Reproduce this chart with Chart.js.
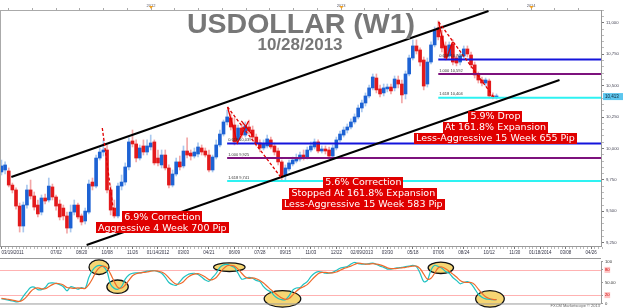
<!DOCTYPE html>
<html>
<head>
<meta charset="utf-8">
<script src="https://cdn.jsdelivr.net/npm/chart.js@4.4.0/dist/chart.umd.min.js"></script>
<style>
  html, body { margin: 0; padding: 0; background: #fff; }
  #wrap { position: relative; width: 624px; height: 308px; overflow: hidden; }
  #mainBox { position: absolute; left: 0; top: 0; width: 624px; height: 257px; }
  #oscBox { position: absolute; left: 0; top: 257px; width: 624px; height: 51px; }
</style>
</head>
<body>
<div id="wrap">
  <div id="mainBox"><canvas id="mainChart"></canvas></div>
  <div id="oscBox"><canvas id="oscChart"></canvas></div>
</div>
<script>
// weekly candles, week 0 = 03/19/2011
const opens = [9813,9829,9821,9709,9670,9542,9383,9550,9670,9622,9550,9494,9606,9590,9694,9614,9558,9526,9463,9367,9494,9550,9463,9423,9494,9733,9701,9924,9972,9988,9670,9526,9463,9701,9733,9853,10060,10036,9924,10020,9972,10012,10052,9924,9869,9948,9845,9709,9797,9893,9861,9980,9964,9940,9956,10004,9980,9948,9829,9932,10028,10115,10211,10243,10187,10068,10163,10107,10171,10147,10091,10044,10004,10020,10068,10020,9980,9893,9789,9837,9877,9900,9916,9948,9932,9988,10012,10052,9980,9996,9988,9940,10004,10068,10107,10147,10171,10211,10251,10322,10362,10418,10482,10561,10474,10442,10474,10489,10482,10545,10513,10434,10593,10720,10816,10784,10704,10513,10688,10824,10959,10895,10816,10736,10832,10720,10688,10736,10792,10744,10665,10585,10545,10521,10537,10418,10410];
const highs = [9908,9893,9845,9725,9686,9566,9574,9709,9749,9654,9590,9630,9638,9765,9717,9630,9590,9550,9494,9550,9590,9566,9479,9526,9749,9765,9948,10004,10068,10028,9701,9590,9725,9789,9885,10084,10147,10068,10028,10068,10068,10107,10068,9988,9988,9988,9869,9829,9924,9940,10020,10084,9988,10004,10044,10028,10004,9988,9948,10068,10147,10227,10306,10275,10243,10187,10195,10211,10227,10179,10115,10068,10068,10107,10091,10044,10004,9908,9869,9908,9932,9956,9972,9988,10012,10052,10076,10068,10020,10020,10012,10028,10091,10139,10171,10195,10235,10275,10346,10386,10442,10505,10593,10593,10505,10513,10513,10513,10577,10577,10545,10617,10744,10864,10864,10800,10728,10720,10848,10967,11015,10943,10848,10848,10864,10744,10760,10816,10816,10768,10688,10609,10569,10561,10553,10442,10434];
const lows = [9789,9797,9694,9646,9518,9335,9335,9526,9598,9510,9455,9471,9558,9574,9590,9510,9431,9431,9327,9335,9471,9439,9391,9399,9479,9670,9686,9908,9940,9646,9471,9447,9447,9670,9709,9829,10012,9893,9908,9948,9948,9988,9869,9861,9845,9829,9686,9694,9781,9829,9845,9924,9908,9924,9932,9948,9932,9813,9813,9916,10012,10099,10187,10147,10028,10044,10084,10091,10115,10068,10020,9972,9988,10004,9996,9948,9869,9749,9741,9821,9861,9885,9900,9908,9916,9972,9996,9964,9964,9956,9924,9924,9988,10052,10091,10123,10155,10195,10235,10290,10338,10402,10466,10442,10410,10418,10450,10434,10458,10482,10362,10394,10577,10704,10752,10657,10466,10489,10673,10808,10864,10768,10704,10720,10665,10657,10665,10720,10728,10641,10561,10521,10497,10497,10402,10394,10394];
const closes = [9861,9869,9709,9670,9542,9383,9550,9670,9622,9534,9479,9606,9582,9701,9614,9542,9455,9463,9367,9494,9550,9455,9415,9502,9717,9701,9924,9972,9988,9670,9510,9463,9701,9733,9853,10052,10036,9924,10004,9972,10020,10044,9885,9885,9948,9845,9709,9797,9893,9853,9980,9948,9940,9972,10012,9972,9948,9829,9932,10028,10115,10211,10251,10171,10052,10163,10107,10179,10139,10091,10044,10004,10036,10076,10012,9972,9893,9773,9845,9885,9908,9924,9948,9924,9988,10020,10052,9980,9996,9980,9940,10004,10068,10115,10147,10171,10211,10251,10322,10362,10418,10482,10569,10466,10434,10482,10489,10458,10553,10513,10426,10593,10720,10816,10776,10688,10497,10688,10824,10943,10888,10800,10720,10824,10688,10680,10736,10792,10752,10665,10585,10545,10521,10545,10418,10410,10413];

// slow stochastic (%K teal, %D orange)
const stochK = [11,10,8,6,4,5,17,28,38,39,33,33,38,48,49,48,45,40,30,40,38,34,38,36,62,79,88,91,88,76,45,36,34,40,58,68,72,73,73,75,77,78,78,76,72,62,50,45,43,52,62,68,71,72,69,63,56,53,62,72,86,92,93,90,86,72,58,60,62,60,55,52,40,32,28,18,12,9,9,18,32,37,38,46,52,64,72,76,75,72,72,74,79,84,86,88,94,98,95,94,94,95,96,93,89,86,82,82,84,85,86,88,89,91,88,72,52,55,80,91,88,84,76,72,62,55,47,50,52,47,35,22,15,11,10,9,9];
const stochD = [12,11,10,8,6,5,9,17,28,35,37,35,35,40,45,48,47,44,38,37,36,37,36,36,45,59,76,86,89,85,70,52,38,37,44,55,66,71,73,74,75,77,78,77,75,70,61,52,46,47,52,61,67,70,71,68,63,57,57,62,73,83,90,91,89,82,72,63,60,61,59,55,49,41,33,26,19,13,10,12,20,29,36,40,45,54,63,71,74,74,73,73,75,79,83,86,89,93,96,95,94,94,95,94,92,89,85,83,83,84,85,86,88,89,89,83,70,58,60,72,85,87,83,77,70,63,55,51,50,50,45,34,24,16,12,10,9];

// bottom date axis
const tickWeeks = [0,15,22,29,36,43,50,57,64,71,78,85,92,99,106,113,120,127,134,141,148,155,162];
const tickTexts = ["03/19/2011","07/02","08/20","10/08","11/26","01/14/2012","03/03","04/21","06/09","07/28","09/15","11/03","12/22","02/09/2013","03/30","05/18","07/06","08/24","10/12","11/30","01/18/2014","03/08","04/26"];
const yearWeeks = [41.1, 93.4, 145.6];
const yearTexts = ["2012", "2013", "2014"];

// fibonacci expansion levels
const fibRatios = ["0.618", "1.000", "1.618"];
const fibLeftLevels = [10039, 9925, 9741];
const fibLeftStart = 62;
const fibRightLevels = [10708, 10592, 10404];
const fibRightStart = 120;

// channel lines (week, price)
const upperChannel = [{ x: 2.7, y: 9773 }, { x: 133.8, y: 11094 }];
const lowerChannel = [{ x: 23.4, y: 9232 }, { x: 153.3, y: 10545 }];

// red swing marks (week, price)
const swing1Dash = [{ x: 27.7, y: 10163 }, { x: 31.0, y: 9455 }];
const swing2Solid = [{ x: 62.1, y: 10330 }, { x: 64.8, y: 10044 }, { x: 67.9, y: 10219 }];
const swing2Cross = [{ x: 65.9, y: 10219 }, { x: 69.0, y: 10107 }];
const swing2Dash = [{ x: 62.1, y: 10330 }, { x: 76.9, y: 9765 }];
const swing3Solid = [{ x: 120.1, y: 11007 }, { x: 122.3, y: 10720 }, { x: 123.9, y: 10848 }];
const swing3Dash = [{ x: 120.1, y: 11007 }, { x: 135.2, y: 10410 }];

// callouts (anchor week, price of first line)
const noteWeeks = [44.2, 99.4, 135.7];
const noteValues = [9455, 9733, 10255];
const noteLines = [
  ["6.9% Correction", "Aggressive 4 Week 700 Pip"],
  ["5.6% Correction", "Stopped At 161.8% Expansion", "Less-Aggressive 15 Week 583 Pip"],
  ["5.9% Drop", "At 161.8% Expansion", "Less-Aggressive 15 Week 655 Pip"]
];

// stochastic turning points (week, value)
const circleWeeks = [26.8, 31.9, 62.6, 77.2, 120.7, 134.2];
const circleValues = [86.5, 40, 86.5, 11, 85, 11];
const circleRx = [10, 10.7, 15.7, 18.3, 12.7, 14.3];
const circleRy = [7.3, 6.7, 4.3, 8.3, 5.7, 8.3];

const chartTitle = "USDOLLAR (W1)";
const chartDate = "10/28/2013";

const SANS = '"Liberation Sans", Arial, sans-serif';
const VERD = '"DejaVu Sans", Verdana, sans-serif';
const X_MIN = -0.4, X_MAX = 164.7;
const Y_MIN = 9224, Y_MAX = 11102;

function fmt(v) {
  return Math.round(v).toLocaleString("en-US");
}

function lineSet(points, color, width, dash, order) {
  return {
    type: "line",
    data: points,
    borderColor: color,
    borderWidth: width,
    borderDash: dash || [],
    pointRadius: 0,
    fill: false,
    xAxisID: "x",
    yAxisID: "y",
    order: order,
  };
}

const isUp = closes.map((c, i) => c >= opens[i]);
const bodyData = closes.map((c, i) => ({ x: i, y: [opens[i], c] }));
const wickData = closes.map((c, i) => ({ x: i, y: [lows[i], highs[i]] }));

const allWeeks = [];
for (let w = 0; w <= 165; w++) allWeeks.push(w);
const topTicks = [];
for (let k = -7; k <= 20; k++) {
  const v = yearWeeks[0] + k * 6.525;
  if (v >= X_MIN && v <= X_MAX) topTicks.push(v);
}
const priceTicks = [];
for (let p = 9250; p <= 11100; p += 50) priceTicks.push(p);

const mainOverlay = {
  id: "mainOverlay",
  afterDatasetsDraw(chart) {
    const { ctx, scales: { x, y } } = chart;
    ctx.save();

    // fib level captions
    ctx.font = "4px " + SANS;
    ctx.fillStyle = "#333";
    ctx.textAlign = "left";
    ctx.textBaseline = "bottom";
    fibLeftLevels.forEach((lv, i) => {
      ctx.fillText(fibRatios[i] + " " + fmt(lv), x.getPixelForValue(fibLeftStart) + 1, y.getPixelForValue(lv) - 1.5);
    });
    fibRightLevels.forEach((lv, i) => {
      ctx.fillText(fibRatios[i] + " " + fmt(lv), x.getPixelForValue(fibRightStart) + 1, y.getPixelForValue(lv) - 1.5);
    });

    // title
    ctx.fillStyle = "#777";
    ctx.textAlign = "center";
    ctx.textBaseline = "alphabetic";
    ctx.font = "bold 28.5px " + SANS;
    ctx.fillText(chartTitle, 301, 32.5);
    ctx.font = "bold 17px " + SANS;
    ctx.fillText(chartDate, 300, 50);

    // red callouts
    ctx.font = "9.5px " + VERD;
    ctx.textBaseline = "middle";
    noteLines.forEach((lines, k) => {
      const cx = x.getPixelForValue(noteWeeks[k]);
      const cy0 = y.getPixelForValue(noteValues[k]);
      lines.forEach((t, j) => {
        const w = ctx.measureText(t).width + 4;
        const cy = cy0 + j * 11;
        ctx.fillStyle = "#e00000";
        ctx.fillRect(Math.round(cx - w / 2), Math.round(cy - 5.5), Math.round(w), 11);
        ctx.fillStyle = "#fff";
        ctx.fillText(t, cx, cy + 0.5);
      });
    });
    ctx.restore();
  },
  afterDraw(chart) {
    const { ctx, chartArea: a, scales: { xTop, y } } = chart;
    ctx.save();
    // left frame edge
    ctx.strokeStyle = "#aaa";
    ctx.lineWidth = 1;
    ctx.beginPath();
    ctx.moveTo(a.left + 0.5, a.top);
    ctx.lineTo(a.left + 0.5, a.bottom);
    ctx.stroke();

    // year markers
    ctx.fillStyle = "#f0a020";
    yearWeeks.forEach((w) => {
      const px = xTop.getPixelForValue(w);
      ctx.beginPath();
      ctx.moveTo(px - 2, a.top - 4);
      ctx.lineTo(px + 2, a.top - 4);
      ctx.lineTo(px, a.top - 1);
      ctx.closePath();
      ctx.fill();
    });

    // last price tag
    const last = closes[closes.length - 1];
    const py = y.getPixelForValue(last);
    ctx.fillStyle = "#5cc6ee";
    ctx.fillRect(a.right + 2, py - 3.5, 20, 7);
    ctx.fillStyle = "#123";
    ctx.font = "4.5px " + SANS;
    ctx.textAlign = "left";
    ctx.textBaseline = "middle";
    ctx.fillText(fmt(last), a.right + 4, py + 0.3);
    ctx.restore();
  },
};

new Chart(document.getElementById("mainChart"), {
  type: "bar",
  data: {
    datasets: [
      {
        type: "bar",
        data: wickData,
        backgroundColor: isUp.map((u) => (u ? "#a9c8ee" : "#f3a7a7")),
        barThickness: 1,
        grouped: false,
        xAxisID: "x",
        yAxisID: "y",
        order: 6,
      },
      {
        type: "bar",
        data: bodyData,
        backgroundColor: isUp.map((u) => (u ? "#1d62d4" : "#e3191b")),
        barThickness: 3,
        minBarLength: 1,
        grouped: false,
        xAxisID: "x",
        yAxisID: "y",
        order: 5,
      },
      lineSet([{ x: fibLeftStart, y: fibLeftLevels[0] }, { x: X_MAX, y: fibLeftLevels[0] }], "#1414dc", 2, null, 4),
      lineSet([{ x: fibLeftStart, y: fibLeftLevels[1] }, { x: X_MAX, y: fibLeftLevels[1] }], "#7d127d", 2, null, 4),
      lineSet([{ x: fibLeftStart, y: fibLeftLevels[2] }, { x: X_MAX, y: fibLeftLevels[2] }], "#2ef2f2", 2, null, 4),
      lineSet([{ x: fibRightStart, y: fibRightLevels[0] }, { x: X_MAX, y: fibRightLevels[0] }], "#1414dc", 2, null, 4),
      lineSet([{ x: fibRightStart, y: fibRightLevels[1] }, { x: X_MAX, y: fibRightLevels[1] }], "#7d127d", 2, null, 4),
      lineSet([{ x: fibRightStart, y: fibRightLevels[2] }, { x: X_MAX, y: fibRightLevels[2] }], "#2ef2f2", 2, null, 4),
      lineSet(upperChannel, "#000", 2, null, 3),
      lineSet(lowerChannel, "#000", 2, null, 3),
      lineSet(swing1Dash, "#e00000", 1.3, [3, 2], 2),
      lineSet(swing2Solid, "#e00000", 1.3, null, 2),
      lineSet(swing2Cross, "#e00000", 1.3, null, 2),
      lineSet(swing2Dash, "#e00000", 1.3, [3, 2], 2),
      lineSet(swing3Solid, "#e00000", 1.3, null, 2),
      lineSet(swing3Dash, "#e00000", 1.3, [3, 2], 2),
    ],
  },
  options: {
    responsive: true,
    maintainAspectRatio: false,
    animation: false,
    events: [],
    layout: { padding: 0, autoPadding: false },
    plugins: { legend: { display: false }, tooltip: { enabled: false } },
    scales: {
      x: {
        type: "linear",
        axis: "x",
        position: "bottom",
        min: X_MIN,
        max: X_MAX,
        offset: false,
        afterBuildTicks: (s) => { s.ticks = allWeeks.map((v) => ({ value: v })); },
        afterFit: (s) => { s.height = 11; },
        ticks: {
          autoSkip: false,
          maxRotation: 0,
          minRotation: 0,
          align: "inner",
          padding: 1,
          font: { size: 4.5, family: SANS },
          color: "#334",
          callback: (v) => {
            const k = tickWeeks.indexOf(v);
            return k < 0 ? "" : tickTexts[k];
          },
        },
        grid: {
          offset: false,
          drawOnChartArea: false,
          tickLength: 3,
          tickColor: (c) => (tickWeeks.indexOf(c.tick && c.tick.value) >= 0 ? "#777" : "#bbb"),
        },
        border: { color: "#999" },
      },
      xTop: {
        type: "linear",
        axis: "x",
        position: "top",
        min: X_MIN,
        max: X_MAX,
        offset: false,
        afterBuildTicks: (s) => { s.ticks = topTicks.map((v) => ({ value: v })); },
        afterFit: (s) => { s.height = 10; },
        ticks: {
          autoSkip: false,
          maxRotation: 0,
          minRotation: 0,
          padding: 0,
          font: { size: 4, family: SANS },
          color: "#556",
          callback: (v) => {
            const k = yearWeeks.findIndex((w) => Math.abs(w - v) < 0.3);
            return k < 0 ? "" : yearTexts[k];
          },
        },
        grid: { offset: false, drawOnChartArea: false, tickLength: 2, tickColor: "#aaa" },
        border: { color: "#aaa" },
      },
      y: {
        type: "linear",
        position: "right",
        min: Y_MIN,
        max: Y_MAX,
        afterBuildTicks: (s) => { s.ticks = priceTicks.map((v) => ({ value: v })); },
        afterFit: (s) => { s.width = 23; },
        ticks: {
          autoSkip: false,
          padding: 2,
          font: { size: 4.2, family: SANS },
          color: "#445",
          callback: (v) => (v % 250 === 0 ? fmt(v) : ""),
        },
        grid: {
          drawOnChartArea: false,
          tickLength: 3,
          tickColor: (c) => (c.tick && c.tick.value % 250 === 0 ? "#777" : "#bbb"),
        },
        border: { color: "#999" },
      },
    },
  },
  plugins: [mainOverlay],
});

const oscOverlay = {
  id: "oscOverlay",
  beforeDatasetsDraw(chart) {
    const { ctx, chartArea: a, scales: { x, y } } = chart;
    ctx.save();
    ctx.strokeStyle = "#ffb2b2";
    ctx.lineWidth = 1;
    [80, 20].forEach((lv) => {
      const py = Math.round(y.getPixelForValue(lv)) + 0.5;
      ctx.beginPath();
      ctx.moveTo(a.left, py);
      ctx.lineTo(a.right, py);
      ctx.stroke();
    });
    circleWeeks.forEach((w, i) => {
      ctx.beginPath();
      ctx.ellipse(x.getPixelForValue(w), y.getPixelForValue(circleValues[i]), circleRx[i], circleRy[i], 0, 0, Math.PI * 2);
      ctx.fillStyle = "#f6d673";
      ctx.fill();
      ctx.lineWidth = 1.3;
      ctx.strokeStyle = "#111";
      ctx.stroke();
    });
    ctx.restore();
  },
  afterDraw(chart) {
    const { ctx, chartArea: a } = chart;
    ctx.save();
    ctx.strokeStyle = "#999";
    ctx.lineWidth = 1;
    ctx.beginPath();
    ctx.moveTo(0, 1.5);
    ctx.lineTo(a.right, 1.5);
    ctx.moveTo(0, a.bottom + 0.5);
    ctx.lineTo(a.right, a.bottom + 0.5);
    ctx.stroke();
    ctx.fillStyle = "#666";
    ctx.font = "4px " + SANS;
    ctx.textAlign = "right";
    ctx.textBaseline = "bottom";
    ctx.fillText("FXCM Marketscope \u00a9 2013", a.right - 1, 51);
    ctx.restore();
  },
};

new Chart(document.getElementById("oscChart"), {
  type: "line",
  data: {
    datasets: [
      {
        data: stochD.map((v, i) => ({ x: i, y: v })),
        borderColor: "#ef6a2c",
        borderWidth: 1.2,
        pointRadius: 0,
        tension: 0.3,
      },
      {
        data: stochK.map((v, i) => ({ x: i, y: v })),
        borderColor: "#1fc2c2",
        borderWidth: 1.2,
        pointRadius: 0,
        tension: 0.3,
      },
    ],
  },
  options: {
    responsive: true,
    maintainAspectRatio: false,
    animation: false,
    events: [],
    layout: { padding: { top: 4, bottom: 3, left: 0, right: 0 }, autoPadding: false },
    plugins: { legend: { display: false }, tooltip: { enabled: false } },
    scales: {
      x: { type: "linear", min: X_MIN, max: X_MAX, display: false },
      y: {
        position: "right",
        min: 0,
        max: 100,
        afterBuildTicks: (s) => { s.ticks = [0, 20, 50, 80, 100].map((v) => ({ value: v })); },
        afterFit: (s) => { s.width = 23; },
        ticks: {
          autoSkip: false,
          padding: 2,
          font: { size: 4.2, family: SANS },
          color: (c) => (c.tick.value === 80 || c.tick.value === 20 ? "#c00" : "#333"),
          showLabelBackdrop: (c) => c.tick.value === 80 || c.tick.value === 20,
          backdropColor: "#ffc4c4",
          backdropPadding: 0.5,
          callback: (v) => (v === 50 ? "50.00" : String(v)),
        },
        grid: { drawOnChartArea: false, tickLength: 2, tickColor: "#999" },
        border: { color: "#999" },
      },
    },
  },
  plugins: [oscOverlay],
});
</script>
</body>
</html>
